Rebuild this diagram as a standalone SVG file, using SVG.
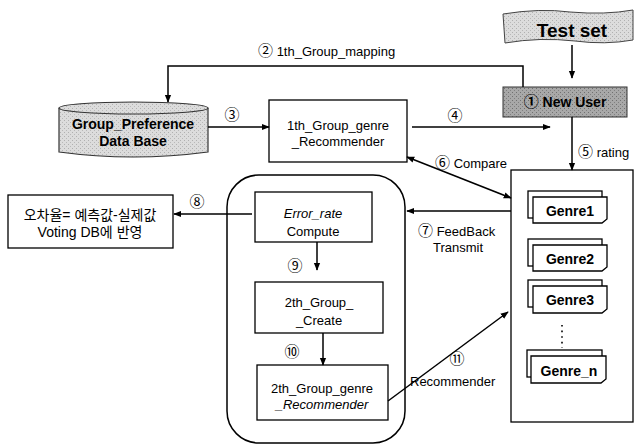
<svg xmlns="http://www.w3.org/2000/svg" width="636" height="445" viewBox="0 0 636 445">
<defs>
<marker id="ah" viewBox="0 0 10 10" refX="9" refY="5" markerWidth="8" markerHeight="8" orient="auto-start-reverse" markerUnits="userSpaceOnUse">
<path d="M0,1 L10,5 L0,9 Z" fill="#000"/>
</marker>
<pattern id="tex" width="4" height="4" patternUnits="userSpaceOnUse">
<rect width="4" height="4" fill="#dcdcdc"/>
<rect x="0" y="0" width="1" height="1" fill="#b0b0b0"/>
<rect x="2" y="2" width="1" height="1" fill="#b8b8b8"/>
</pattern>
<pattern id="tex2" width="4" height="4" patternUnits="userSpaceOnUse">
<rect width="4" height="4" fill="#a8a8a8"/>
<rect x="0" y="0" width="1" height="1" fill="#707070"/>
<rect x="2" y="2" width="1" height="1" fill="#808080"/>
</pattern>
</defs>
<style>
text{font-family:"Liberation Sans","Noto Sans CJK KR",sans-serif;fill:#000}
.t{font-size:13px}
.n{font-size:15px}
.c{text-anchor:middle}
.b{font-weight:bold}
.i{font-style:italic}
.box{fill:#fff;stroke:#000;stroke-width:1.3}
.ln{fill:none;stroke:#000;stroke-width:1.5}
.card{fill:#fff;stroke:#000;stroke-width:1.3}
</style>

<g id="testset">
<path d="M503,14 Q540,8 570,12 Q605,15 633,10 L633,40 Q605,45 575,41 Q540,37 505,43 Z" fill="url(#tex)" stroke="#444" stroke-width="1"/>
<text x="572" y="37" class="c b" font-size="19">Test set</text>
</g>

<g id="newuser">
<rect x="503" y="87" width="124" height="30" fill="url(#tex2)" stroke="#333" stroke-width="1"/>
<text x="565" y="107" class="c b" font-size="14"><tspan class="n">①</tspan> New User</text>
</g>

<g id="groupdb">
<path d="M59,108 L59,152 Q133,162 208,152 L208,108" fill="url(#tex)" stroke="#333" stroke-width="1.2"/>
<ellipse cx="133.5" cy="108" rx="74.5" ry="6" fill="url(#tex)" stroke="#333" stroke-width="1.2"/>
<text x="133" y="129" class="c b" font-size="14">Group_Preference</text>
<text x="133" y="146" class="c b" font-size="14">Data Base</text>
</g>

<g id="rec1">
<rect x="269" y="100" width="138" height="62" class="box"/>
<text x="338" y="130" class="c t">1th_Group_genre</text>
<text x="338" y="146" class="c t">_Recommender</text>
</g>

<g id="errornote">
<rect x="8" y="195" width="165" height="53" class="box"/>
<text x="90" y="220" class="c" font-size="14">오차율= 예측값-실제값</text>
<text x="90" y="237" class="c" font-size="14">Voting DB에 반영</text>
</g>

<g id="feedbackgroup">
<rect x="227" y="175" width="178" height="268" rx="32" ry="32" fill="none" stroke="#000" stroke-width="1.5"/>
</g>

<g id="errorrate">
<rect x="255" y="192" width="117" height="50" class="box"/>
<text x="313" y="218" class="c t i">Error_rate</text>
<text x="313" y="236" class="c t">Compute</text>
</g>

<g id="create2">
<rect x="255" y="282" width="128" height="51" class="box"/>
<text x="319" y="307" class="c t">2th_Group_</text>
<text x="319" y="325" class="c t">_Create</text>
</g>

<g id="rec2">
<rect x="257" y="365" width="131" height="55" class="box"/>
<text x="322" y="393" class="c t">2th_Group_genre</text>
<text x="322" y="409" class="c t i">_Recommender</text>
</g>

<g id="genres">
<rect x="511" y="170" width="122" height="252" fill="#fff" stroke="#000" stroke-width="1.3"/>
<g id="genre1">
<rect x="528" y="191" width="74" height="27" class="card"/>
<path d="M533,197 L607,197 L607,219 L602,223 L533,223 Z" class="card"/>
<text x="570" y="216" class="c b" font-size="14">Genre1</text>
</g>
<g id="genre2">
<rect x="528" y="239" width="74" height="27" class="card"/>
<path d="M533,245 L607,245 L607,267 L602,271 L533,271 Z" class="card"/>
<text x="570" y="264" class="c b" font-size="14">Genre2</text>
</g>
<g id="genre3">
<rect x="528" y="280" width="74" height="27" class="card"/>
<path d="M533,286 L607,286 L607,309 L602,313 L533,313 Z" class="card"/>
<text x="570" y="305" class="c b" font-size="14">Genre3</text>
</g>
<path d="M562,325 L562,348" stroke="#000" stroke-width="1.6" stroke-dasharray="1.6,4" fill="none"/>
<g id="genren">
<rect x="527" y="350" width="75" height="27" class="card"/>
<path d="M531,356 L606,356 L606,379 L601,383 L531,383 Z" class="card"/>
<text x="569" y="376" class="c b" font-size="14">Genre_n</text>
</g>
</g>

<g id="connectors">
<path d="M572,45 L572,78" class="ln" marker-end="url(#ah)"/>
<path d="M523,87 L523,66 L168,66 L168,102" class="ln" marker-end="url(#ah)"/>
<path d="M208,127 L269,127" class="ln" marker-end="url(#ah)"/>
<path d="M412,127 L550,127" class="ln" marker-end="url(#ah)"/>
<path d="M572,117 L572,170" class="ln" marker-end="url(#ah)"/>
<path d="M407,157 L511,198" class="ln" marker-start="url(#ah)" marker-end="url(#ah)"/>
<path d="M511,211 L407,211" class="ln" marker-end="url(#ah)"/>
<path d="M252,214 L174,214" class="ln" marker-end="url(#ah)"/>
<path d="M317,242 L317,270" class="ln" marker-end="url(#ah)"/>
<path d="M323,333 L323,365" class="ln" marker-end="url(#ah)"/>
<path d="M388,401 L508,312" class="ln" marker-end="url(#ah)"/>
</g>

<g id="labels">
<text x="258" y="56" class="t"><tspan class="n">②</tspan> 1th_Group_mapping</text>
<text x="232" y="120" class="c n">③</text>
<text x="455" y="121" class="c n">④</text>
<text x="578" y="157" class="t"><tspan class="n">⑤</tspan> rating</text>
<text x="435" y="168" class="t"><tspan class="n">⑥</tspan> Compare</text>
<text x="418" y="236" class="t"><tspan class="n">⑦</tspan> FeedBack</text>
<text x="433" y="252" class="t">Transmit</text>
<text x="197" y="207" class="c n">⑧</text>
<text x="295" y="271" class="c n">⑨</text>
<text x="292" y="357" class="c n">⑩</text>
<text x="457" y="364" class="c n">⑪</text>
<text x="410" y="386" class="t">Recommender</text>
</g>
</svg>
